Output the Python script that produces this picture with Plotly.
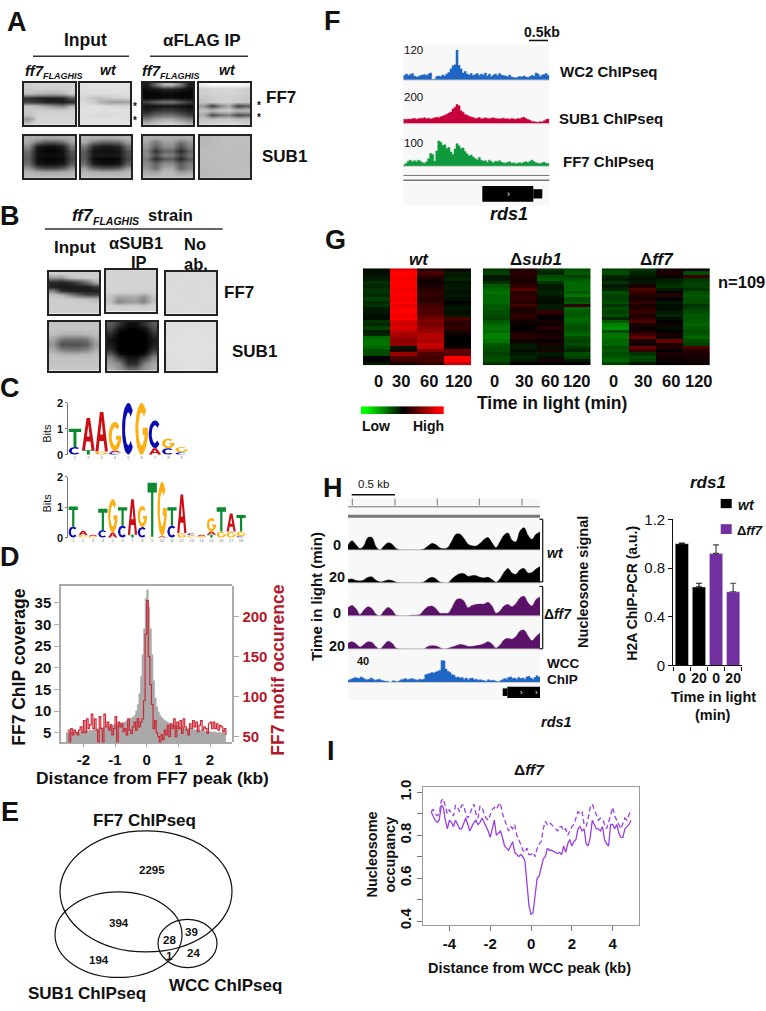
import numpy as np
import plotly.graph_objects as go

W, H = 766, 1011
FONT = "Liberation Sans"

# ---- Panel A / B blots (grey levels, 0 = black, 255 = white)
A_FF7_INPUT = [
    [205, 210, 210, 210, 210, 210],
    [200, 205, 205, 205, 205, 208],
    [195, 185, 180, 180, 185, 205],
    [50, 35, 30, 30, 35, 90],
    [60, 50, 35, 30, 25, 40],
    [195, 185, 165, 145, 130, 180],
    [200, 205, 205, 205, 205, 210],
    [195, 210, 210, 212, 212, 212],
    [150, 212, 212, 214, 214, 214],
    [195, 212, 214, 214, 214, 214],
]
A_FF7_WT = [
    [225, 226, 226, 226, 226, 226],
    [222, 224, 224, 224, 224, 224],
    [220, 220, 222, 222, 222, 222],
    [212, 195, 190, 200, 205, 210],
    [218, 205, 175, 160, 155, 160],
    [222, 222, 222, 218, 215, 215],
    [224, 224, 224, 224, 224, 224],
    [222, 220, 218, 218, 220, 222],
    [224, 224, 224, 224, 224, 224],
    [226, 226, 226, 226, 226, 226],
]
A_FF7_IP = [
    [30, 110, 180, 180, 120, 30],
    [15, 25, 40, 40, 25, 15],
    [5, 5, 10, 10, 5, 5],
    [10, 10, 15, 15, 10, 10],
    [70, 100, 120, 120, 90, 60],
    [15, 15, 20, 20, 15, 10],
    [30, 50, 60, 60, 45, 30],
    [70, 100, 110, 110, 90, 60],
    [125, 155, 170, 170, 145, 120],
    [175, 190, 200, 200, 190, 170],
]
A_FF7_IP_WT = [
    [240, 250, 250, 250, 250, 240],
    [205, 210, 212, 212, 210, 205],
    [205, 210, 212, 212, 210, 205],
    [200, 205, 208, 208, 205, 200],
    [195, 205, 210, 210, 205, 200],
    [150, 60, 130, 170, 60, 90],
    [195, 190, 205, 205, 190, 190],
    [170, 70, 110, 130, 70, 90],
    [195, 190, 200, 200, 190, 190],
    [208, 210, 212, 212, 210, 205],
]
A_SUB1_INPUT = [
    [175, 170, 165, 165, 170, 175],
    [170, 120, 90, 90, 110, 160],
    [140, 30, 15, 15, 30, 120],
    [110, 15, 5, 5, 15, 90],
    [100, 20, 15, 15, 20, 80],
    [95, 15, 5, 5, 10, 70],
    [110, 25, 15, 15, 20, 90],
    [150, 90, 70, 70, 90, 140],
    [180, 170, 165, 165, 170, 180],
    [185, 185, 185, 185, 185, 185],
]
A_SUB1_WT = [
    [180, 175, 170, 170, 175, 180],
    [170, 120, 100, 100, 110, 160],
    [120, 40, 25, 25, 35, 110],
    [90, 20, 15, 15, 20, 80],
    [90, 25, 25, 25, 25, 80],
    [90, 10, 5, 5, 10, 70],
    [110, 25, 15, 15, 20, 90],
    [155, 100, 80, 80, 95, 150],
    [185, 175, 170, 170, 175, 185],
    [190, 190, 190, 190, 190, 190],
]
A_SUB1_IP = [
    [175, 170, 175, 175, 170, 175],
    [165, 120, 160, 160, 115, 150],
    [150, 95, 140, 140, 80, 130],
    [130, 50, 100, 100, 40, 100],
    [140, 80, 130, 130, 70, 120],
    [120, 40, 90, 90, 40, 90],
    [140, 100, 140, 140, 90, 125],
    [150, 110, 170, 170, 100, 135],
    [170, 160, 185, 185, 155, 170],
    [185, 185, 190, 190, 185, 185],
]
A_SUB1_IP_WT = [
    [185, 190, 190],
    [188, 190, 188],
    [185, 188, 190],
]
B_FF7_INPUT = [
    [205, 205, 205, 205, 205, 205],
    [150, 150, 190, 200, 205, 205],
    [40, 35, 45, 70, 110, 170],
    [30, 25, 25, 30, 30, 55],
    [130, 45, 35, 30, 30, 30],
    [195, 180, 135, 100, 70, 70],
    [205, 205, 205, 200, 195, 185],
    [205, 205, 205, 205, 205, 205],
    [205, 205, 205, 205, 205, 205],
    [205, 205, 205, 205, 205, 205],
]
B_FF7_IP = [
    [212, 212, 212, 212, 212, 212],
    [212, 212, 212, 212, 212, 212],
    [212, 212, 212, 212, 212, 212],
    [212, 212, 212, 212, 212, 212],
    [212, 212, 212, 212, 210, 212],
    [210, 205, 205, 205, 200, 208],
    [195, 160, 165, 170, 140, 190],
    [195, 130, 150, 160, 130, 190],
    [210, 205, 205, 205, 200, 210],
    [212, 212, 212, 212, 212, 212],
]
B_FF7_NOAB = [
    [218, 220, 218],
    [220, 216, 220],
    [218, 220, 218],
]
B_SUB1_INPUT = [
    [195, 195, 195, 195, 195, 195],
    [195, 195, 195, 195, 195, 195],
    [190, 180, 175, 175, 180, 190],
    [165, 115, 110, 110, 120, 170],
    [150, 80, 80, 80, 90, 155],
    [170, 125, 115, 115, 130, 170],
    [190, 180, 175, 175, 180, 190],
    [195, 195, 195, 195, 195, 195],
    [195, 195, 195, 195, 195, 195],
    [200, 200, 200, 200, 200, 200],
]
B_SUB1_IP = [
    [90, 50, 15, 15, 50, 90],
    [70, 15, 0, 0, 15, 70],
    [40, 0, 0, 0, 0, 45],
    [20, 0, 0, 0, 0, 25],
    [25, 0, 0, 0, 0, 30],
    [45, 0, 0, 0, 0, 50],
    [90, 15, 0, 0, 15, 95],
    [135, 70, 25, 25, 70, 140],
    [160, 130, 40, 40, 130, 165],
    [175, 150, 100, 100, 150, 175],
]
B_SUB1_NOAB = [
    [222, 224, 222],
    [224, 226, 224],
    [222, 224, 222],
]

# ---- Panel C logos, bottom to top in each column
LOGO_TOP = [
    [("C", 0.3), ("T", 0.7)], [("T", 0.17), ("A", 1.25)], [("G", 0.12), ("A", 1.53)],
    [("C", 0.08), ("A", 0.07), ("G", 1.12)], [("C", 2.0)], [("G", 2.0)],
    [("A", 0.25), ("C", 1.08)], [("C", 0.25), ("G", 0.38)],
    [("C", 0.1), ("G", 0.2)],
]
LOGO_BOTTOM = [
    [("C", 0.37), ("T", 0.66)], [("G", 0.08), ("A", 0.15)], [("G", 0.05), ("A", 0.05)],
    [("C", 0.25), ("T", 0.7)], [("A", 0.17), ("G", 1.1)], [("C", 0.4), ("T", 0.6)],
    [("T", 0.1), ("A", 1.17)], [("C", 0.35), ("G", 0.7)], [("G", 0.03), ("T", 1.78)],
    [("A", 0.05), ("G", 1.79)], [("C", 0.4), ("T", 0.6)], [("G", 0.15), ("A", 1.27)],
    [("G", 0.08), ("C", 0.06)], [("G", 0.05), ("A", 0.05)], [("T", 0.1), ("A", 0.1), ("G", 0.45)],
    [("G", 0.2), ("T", 0.8)], [("G", 0.2), ("A", 0.6)], [("C", 0.05), ("G", 0.15), ("T", 0.55)],
]
LOGO_COLORS = {"T": "#0b8a2f", "A": "#cc0d14", "C": "#0a0ab0", "G": "#fdb013"}

# ---- Panel D
COVERAGE = [
    5, 5.1, 5, 5.2, 5, 5.1, 5.2, 5.3, 5.1, 5.2, 5.3,
    5.4, 5.3, 5.5, 5.4, 5.6, 5.5, 5.7, 5.6, 5.8, 6,
    6, 6.2, 6.1, 6.3, 6.2, 6.4, 6.3, 6.5, 6.6, 6.8,
    7, 6.9, 7.1, 7.2, 7.3, 7.4, 7.5, 7.8, 8, 8.2,
    8.4, 8.6, 9, 10, 11.5, 14, 18, 23, 29, 36,
    38, 34, 29, 23, 17, 13, 11, 9.8, 9, 8.5,
    8.1, 7.8, 7.6, 7.4, 7.2, 7, 6.9, 6.8, 6.7, 6.6,
    6.4, 6.3, 6.2, 6.2, 6.1, 6, 6, 5.9, 5.8, 5.8,
    5.7, 5.6, 5.6, 5.5, 5.5, 5.4, 5.4, 5.3, 5.2, 5.3,
    5.2, 5.1, 5.2, 5.1, 5, 5.1, 5, 5, 5.1, 5, 5,
]
MOTIF = [
    58, 40, 60, 52, 58, 55, 52, 58, 62, 55,
    70, 55, 72, 60, 65, 78, 60, 72, 58, 42,
    75, 60, 42, 78, 62, 68, 58, 65, 52, 60,
    75, 40, 68, 62, 66, 56, 60, 52, 72, 58,
    54, 62, 68, 58, 72, 62, 68, 72, 95, 178,
    220, 150, 115, 90, 60, 70, 55, 50, 42, 52,
    46, 58, 52, 64, 50, 66, 60, 72, 50, 68,
    60, 70, 54, 72, 62, 58, 52, 66, 60, 70,
    62, 68, 56, 64, 70, 58, 62, 60, 54, 66,
    68, 60, 68, 60, 66, 58, 64, 62, 56, 60, 52,
]

# ---- Panel F tracks
F_WC2 = [18, 24, 18, 22, 26, 16, 12, 14, 18, 20, 22, 18, 24, 28, 2, 4, 14, 16, 14, 20, 16, 24, 30, 44, 56, 60,
         118, 58, 44, 28, 34, 24, 20, 26, 18, 22, 26, 18, 24, 20, 28, 16, 24, 14, 20, 24, 18, 26, 20, 18, 16,
         14, 20, 12, 10, 8, 12, 14, 12, 16, 12, 10, 14, 18, 16, 28, 24, 14, 20, 22, 26, 18, 14]
F_SUB1 = [30, 28, 32, 30, 34, 36, 30, 34, 38, 36, 40, 34, 38, 32, 36, 40, 44, 40, 48, 52, 58, 64, 72, 80, 100,
          112, 130, 122, 88, 78, 62, 58, 50, 46, 42, 34, 38, 42, 34, 36, 40, 36, 34, 38, 40, 36, 34, 32, 36,
          38, 32, 34, 30, 36, 32, 30, 36, 34, 40, 44, 36, 28, 24, 16, 14, 12, 10, 14, 12, 20, 28, 32, 30]
F_FF7 = [6, 12, 20, 24, 18, 22, 18, 24, 20, 14, 12, 18, 30, 50, 46, 20, 60, 100, 94, 82, 84, 70, 74, 56, 46, 68,
         88, 80, 70, 72, 58, 48, 40, 44, 36, 30, 26, 34, 24, 20, 22, 16, 24, 18, 14, 20, 18, 22, 16, 14, 12,
         16, 18, 12, 14, 10, 12, 14, 12, 16, 18, 14, 20, 24, 18, 14, 12, 10, 14, 16, 12, 10, 8]

# ---- Panel G heatmaps (one list per time point)
WT_HEAT = [
    [-.05, -.05, -.1, -.1, -.2, -.15, -.2, -.2, -.15, -.25, -.15, -.2, -.1, -.1, -.05, -.05, -.2, -.15, -.25, -.1, -.15, -.4, -.45, -.45, -.4, -.3, -.3, 0, 0, -.1],
    [.9, 1, 1, .95, 1, 1, .95, 1, 1, .95, 1, .9, 1, 1, .95, 1, .85, .8, .85, .75, .65, .6, .55, .6, -.1, .1, .6, .3, .25, .1],
    [.1, .3, .15, .1, .05, .1, .15, .2, .2, .15, .2, .25, .3, .3, .35, .45, .5, .45, .55, .6, .7, .7, .65, .8, .75, .5, .3, .25, .3, .2],
    [0, -.1, -.1, -.15, -.05, -.1, -.1, -.05, -.1, -.05, 0, -.05, -.1, -.05, -.1, .3, .2, .15, .2, .1, .05, 0, 0, 0, .05, .4, .35, 1, 1, .8],
]
SUB1_HEAT = [
    [-.2, -.25, -.1, -.1, -.2, -.35, -.4, -.45, -.4, -.4, -.4, -.35, -.35, -.3, -.3, -.25, -.35, -.4, -.45, -.4, -.5, -.5, -.45, -.35, -.3, -.3, -.25, -.3, -.3, -.2],
    [.1, .15, .15, .1, .1, .2, .35, .15, .2, .2, .15, .25, .1, .1, .2, .15, .05, .05, 0, .05, .15, .15, .05, -.1, -.1, -.05, -.1, -.15, -.1, 0],
    [-.2, -.15, -.3, -.35, -.2, -.1, -.1, -.15, -.1, -.05, -.05, -.1, -.1, .2, .05, 0, .1, .05, .15, .05, .1, .1, .05, .1, -.05, .1, -.1, -.05, .1, 0],
    [-.3, -.35, -.25, -.35, -.4, -.4, -.4, -.35, -.45, -.3, -.35, .2, -.4, -.35, -.35, -.4, -.4, -.35, -.3, -.35, -.4, -.3, -.25, -.3, -.2, -.15, -.3, -.25, -.1, 0],
]
FF7_HEAT = [
    [-.25, -.3, -.15, -.1, -.2, -.1, -.15, -.3, -.25, -.25, -.3, -.2, -.3, -.25, -.3, -.15, -.35, -.5, -.55, -.3, -.45, -.45, -.4, -.4, -.3, -.35, -.3, -.35, -.4, -.25],
    [-.2, -.15, -.1, -.05, -.1, .1, .3, .2, .15, .1, .2, .1, .15, .2, .1, .2, .3, .1, .05, .1, .25, .4, .1, .05, .4, .2, -.2, -.3, -.25, -.1],
    [.05, .1, .05, -.1, -.15, -.2, -.1, .05, .15, 0, -.1, -.05, -.05, -.1, -.15, -.05, 0, .05, -.05, 0, .1, .05, .4, .1, .15, 0, .1, .05, .05, 0],
    [0, -.3, .2, -.2, -.25, -.25, -.2, -.3, -.35, -.3, -.3, -.2, -.25, -.3, -.35, -.35, -.35, -.4, -.35, -.3, -.35, -.4, -.3, -.25, .3, .15, .1, .1, .05, .05],
]
HEAT_SCALE_VALUES = [-1, -.75, -.5, -.25, 0, .25, .5, .75, 1]

# ---- Panel H tracks
WT_0 = [15, 28, 16, 4, 14, 38, 38, 10, 0, 12, 22, 18, 5, 0, 0, 0, 0, 0, 0, 3, 12, 20, 16, 6, 4, 8, 28, 48, 48, 35,
        18, 13, 12, 20, 32, 38, 22, 7, 25, 45, 52, 30, 25, 58, 68, 45, 32, 48, 55]
WT_20 = [10, 12, 7, 6, 9, 17, 18, 8, 3, 5, 9, 7, 2, 0, 0, 0, 0, 0, 0, 3, 12, 17, 12, 2, 0, 0, 12, 22, 28, 28,
         20, 22, 22, 17, 15, 17, 10, 2, 12, 32, 44, 30, 26, 40, 44, 30, 32, 42, 50]
FF7_0 = [25, 32, 22, 4, 18, 28, 22, 5, 0, 15, 26, 18, 2, 0, 0, 0, 2, 2, 4, 18, 28, 30, 22, 8, 8, 8, 25, 48, 52, 45,
         25, 32, 35, 36, 36, 42, 30, 8, 15, 30, 35, 28, 38, 55, 60, 40, 30, 50, 58]
FF7_20 = [18, 22, 16, 6, 14, 22, 20, 7, 0, 12, 24, 18, 3, 0, 0, 0, 0, 0, 0, 0, 8, 10, 9, 4, 0, 2, 6, 10, 14, 12,
          8, 8, 10, 12, 16, 22, 15, 3, 12, 28, 32, 30, 38, 55, 58, 40, 25, 38, 48]
WCC_H = [4, 6, 7, 9, 8, 7, 10, 8, 6, 5, 6, 8, 6, 4, 5, 6, 4, 3, 2, 2,
         0, 1, 3, 2, 1, 3, 5, 6, 7, 5, 6, 7, 6, 5, 4, 6, 5, 6,
         14, 15, 16, 18, 17, 19, 20, 22, 40, 39, 24, 20, 18, 14, 13, 9,
         10, 8, 9, 6, 8, 5, 7, 8, 5, 6, 4, 5, 4, 3, 2, 5, 3, 4, 3, 2, 1,
         3, 5, 7, 6, 9, 10, 7, 8, 6, 9, 7, 8, 6, 10, 11, 8, 6, 9, 12, 10, 8]

# ---- Panel H bars
BAR_LABELS = ["0", "20", "0", "20"]
BAR_VALUES_WT = [1.0, 0.645]
BAR_ERRORS_WT = [0.005, 0.03]
BAR_VALUES_FF7 = [0.92, 0.605]
BAR_ERRORS_FF7 = [0.07, 0.07]

# ---- Panel I
OCC_SOLID = [
    .91, .89, .87, .86, .87, .94, .93, .87, .83, .87,
    .86, .84, .87, .85, .83, .83, .86, .88, .85, .82,
    .84, .86, .87, .85, .86, .88, .86, .84, .82, .79,
    .83, .87, .80, .81, .82, .79, .75, .74, .73, .75,
    .77, .72, .71, .70, .71, .70, .68, .58, .47, .43,
    .44, .52, .60, .61, .65, .69, .70, .74, .73, .73,
    .725, .72, .715, .72, .71, .75, .72, .76, .78, .75,
    .77, .78, .83, .84, .82, .83, .76, .75, .79, .87,
    .85, .83, .83, .82, .84, .78, .76, .75, .85, .85,
    .83, .85, .81, .79, .79, .83, .84, .85, .87,
]
OCC_DASHED = [
    .91, .92, .90, .89, .90, .96, .97, .93, .90, .92,
    .90, .89, .94, .93, .91, .94, .94, .90, .88, .90,
    .92, .945, .90, .88, .935, .93, .90, .88, .87, .90,
    .92, .93, .92, .94, .95, .90, .87, .84, .82, .84,
    .83, .85, .80, .78, .75, .73, .72, .74, .71, .71,
    .72, .70, .74, .76, .77, .83, .865, .85, .86, .85,
    .845, .83, .82, .84, .84, .82, .83, .80, .82, .84,
    .85, .88, .91, .90, .91, .85, .84, .88, .93, .945,
    .92, .89, .87, .88, .875, .85, .83, .86, .90, .93,
    .89, .87, .85, .83, .855, .88, .87, .90, .92,
]

fig = go.Figure()
layout_axes = {}
annotations = []
shapes = []
axis_count = 0


def fx(px):
    return px / W


def fy(py):
    return 1 - py / H


def add_axes(x0, y0, x1, y1, xrange, yrange, xopts=None, yopts=None):
    # x0,y0,x1,y1 are pixels of the 766x1011 page, y counted from the top
    global axis_count
    axis_count += 1
    n = axis_count
    xa = dict(domain=[fx(x0), fx(x1)], range=xrange, anchor=f"y{n}", visible=False)
    ya = dict(domain=[fy(y1), fy(y0)], range=yrange, anchor=f"x{n}", visible=False)
    if xopts:
        xa.update(visible=True, showgrid=False, zeroline=False, **xopts)
    if yopts:
        ya.update(visible=True, showgrid=False, zeroline=False, **yopts)
    layout_axes[f"xaxis{n}"] = xa
    layout_axes[f"yaxis{n}"] = ya
    return f"x{n}", f"y{n}"


def label(x, y, s, size=14, bold=True, italic=False, color="#111", angle=0, anchor="center"):
    if italic:
        s = f"<i>{s}</i>"
    if bold:
        s = f"<b>{s}</b>"
    annotations.append(dict(
        x=fx(x), y=fy(y), xref="paper", yref="paper", text=s, showarrow=False,
        xanchor=anchor, yanchor="middle", textangle=angle, borderpad=0, borderwidth=0,
        font=dict(family=FONT, size=size, color=color),
    ))


def line(x0, y0, x1, y1, color="#333", width=1.5):
    shapes.append(dict(type="line", xref="paper", yref="paper", x0=fx(x0), y0=fy(y0), x1=fx(x1), y1=fy(y1),
                       line=dict(color=color, width=width)))


def rect(x0, y0, x1, y1, color):
    shapes.append(dict(type="rect", xref="paper", yref="paper", x0=fx(x0), y0=fy(y0), x1=fx(x1), y1=fy(y1),
                       fillcolor=color, line=dict(width=0), layer="below"))


def ellipse(x0, y0, x1, y1):
    shapes.append(dict(type="circle", xref="paper", yref="paper", x0=fx(x0), y0=fy(y0), x1=fx(x1), y1=fy(y1),
                       line=dict(color="#111", width=1.2)))


def blot(x0, y0, x1, y1, z):
    nrow, ncol = len(z), len(z[0])
    frame = dict(showline=True, mirror=True, linecolor="#222", linewidth=1.5, ticks="", showticklabels=False)
    xa, ya = add_axes(x0, y0, x1, y1, [-0.5, ncol - 0.5], [nrow - 0.5, -0.5], frame, frame)
    fig.add_trace(go.Heatmap(z=z, xaxis=xa, yaxis=ya, zmin=0, zmax=255, zsmooth="best", showscale=False,
                             colorscale=[[0, "#000000"], [1, "#ffffff"]]))


# ---- unit-box outlines of the logo letters
def arc_points(a0, a1, rx, ry, num=24):
    t = np.radians(np.linspace(a0, a1, num))
    return list(zip(0.5 + rx * np.cos(t), 0.5 + ry * np.sin(t)))


GLYPHS = {
    "T": [[(0, 1), (1, 1), (1, .82), (.62, .82), (.62, 0), (.38, 0), (.38, .82), (0, .82)]],
    "A": [[(0, 0), (.36, 1), (.64, 1), (1, 0), (.76, 0), (.67, .27), (.33, .27), (.24, 0)],
          [(.39, .43), (.61, .43), (.5, .78)]],
    "C": [arc_points(45, 315, .5, .5) + arc_points(315, 45, .26, .32)],
    "G": [arc_points(45, 340, .5, .5) + [(1, .34), (1, .52), (.58, .52), (.58, .38), (.76, .38)]
          + arc_points(340, 45, .26, .32)],
}


def draw_logo(x0, y0, x1, y1, stacks):
    n = len(stacks)
    xa, ya = add_axes(
        x0, y0, x1, y1, [0, n], [0, 2],
        dict(tickvals=[i + 0.5 for i in range(n)], ticktext=[str(i + 1) for i in range(n)],
             tickfont=dict(family=FONT, size=4, color="#777"), ticks="", ticklabelstandoff=-1),
        dict(tickvals=[0, 1, 2], showline=True, linecolor="#777", linewidth=1, ticks="outside", ticklen=2,
             tickcolor="#777", tickfont=dict(family=FONT, size=11, color="#111", weight="bold")),
    )
    px = {b: [] for b in GLYPHS}
    py = {b: [] for b in GLYPHS}
    for i, stack in enumerate(stacks):
        bottom = 0
        for base, height in stack:
            for part in GLYPHS[base]:
                for gx, gy in part:
                    px[base].append(i + 0.03 + gx * 0.94)
                    py[base].append(bottom + gy * height)
                px[base].append(None)
                py[base].append(None)
            bottom += height
    for base in GLYPHS:
        fig.add_trace(go.Scatter(x=px[base], y=py[base], xaxis=xa, yaxis=ya, mode="lines", fill="toself", name=base,
                                 fillcolor=LOGO_COLORS[base], line=dict(width=0), hoverinfo="name"))


def track(x0, x1, base_y, height, ymax, values, color, shape="hv"):
    xa, ya = add_axes(x0, base_y - height, x1, base_y, [0, len(values) - 1], [0, ymax])
    line(x0, base_y, x1, base_y, "#cccccc", 1)
    fig.add_trace(go.Scatter(x=list(range(len(values))), y=values, xaxis=xa, yaxis=ya, mode="lines", fill="tozeroy",
                             fillcolor=color, line=dict(color=color, width=0.5, shape=shape), hoverinfo="skip"))


# ---- A
label(17, 13, "A", 27)
label(85, 32, "Input", 17.5)
label(201.7, 32, "αFLAG IP", 17)
line(33, 48, 129, 48)
line(150, 48, 248, 48)
for fx0 in [25, 142]:
    label(fx0, 63, "ff7", 15, italic=True, anchor="left")
    label(fx0 + 18, 68, "FLAGHIS", 9, italic=True, anchor="left")
label(108, 62, "wt", 14, italic=True)
label(227, 62, "wt", 14, italic=True)
blot(24, 75, 75, 118, A_FF7_INPUT)
blot(80, 75, 130, 118, A_FF7_WT)
blot(143, 75, 193, 118, A_FF7_IP)
blot(199, 75, 250, 118, A_FF7_IP_WT)
blot(24, 129, 75, 172, A_SUB1_INPUT)
blot(81, 129, 131, 172, A_SUB1_WT)
blot(143, 129, 193, 172, A_SUB1_IP)
blot(200, 129, 250, 172, A_SUB1_IP_WT)
for sx, sy in [(135, 99), (135, 113), (259, 98), (259, 110)]:
    label(sx, sy, "*", 10)
label(281, 90, "FF7", 17)
label(284, 150, "SUB1", 17)

# ---- B
label(10, 211, "B", 27)
label(72, 210, "ff7", 17, italic=True, anchor="left")
label(93, 216, "FLAGHIS", 10.5, italic=True, anchor="left")
label(148, 210, "strain", 16.5, anchor="left")
line(45, 223.7, 222.7, 223.7)
label(75, 243, "Input", 17)
label(136, 238, "αSUB1", 16.5)
label(139, 257, "IP", 16.5)
label(195, 239, "No", 16.5)
label(196, 259, "ab.", 16.5)
blot(49, 267, 99, 310, B_FF7_INPUT)
blot(106, 265, 156, 308, B_FF7_IP)
blot(166, 267, 216, 310, B_FF7_NOAB)
blot(49, 318, 99, 368, B_SUB1_INPUT)
blot(107, 318, 157, 368, B_SUB1_IP)
blot(166, 318, 216, 368, B_SUB1_NOAB)
label(239, 288, "FF7", 17)
label(254, 348, "SUB1", 17)

# ---- C
label(10, 385, "C", 27)
draw_logo(68.3, 400.7, 188.3, 453.3, LOGO_TOP)
draw_logo(68.3, 476, 246, 537.7, LOGO_BOTTOM)
label(47, 432, "Bits", 11, bold=False, angle=-90)
label(47, 503, "Bits", 11, bold=False, angle=-90)

# ---- D
label(10, 557, "D", 27)
RED = "#b2182b"
tick_black = dict(family=FONT, size=15, color="#111", weight="bold")
xa, ya = add_axes(
    61, 586.7, 231.7, 746, [-2.706, 2.684], [2.75, 38.9],
    dict(tickvals=[-2, -1, 0, 1, 2], ticktext=["-2", "-1", "0", "1", "2"], showline=True, mirror=True,
         linecolor="#aaa", linewidth=1.5, ticks="outside", ticklen=3, tickcolor="#aaa", tickfont=tick_black),
    dict(tickvals=[5, 10, 15, 20, 25, 30, 35], showline=True, linecolor="#aaa", linewidth=1.5,
         ticks="outside", ticklen=5, tickcolor="#aaa", tickfont=tick_black),
)
fig.add_trace(go.Scatter(x=np.linspace(-2.55, 2.5, len(COVERAGE)), y=COVERAGE, xaxis=xa, yaxis=ya, mode="lines",
                         fill="tozeroy", fillcolor="#a9a9a9", line=dict(color="#a9a9a9", width=0.5, shape="hv"),
                         hoverinfo="skip"))
x2, y2 = add_axes(
    61, 586.7, 231.7, 746, [-2.706, 2.684], [42.6, 238.5], None,
    dict(side="right", tickvals=[50, 100, 150, 200], showline=True, linecolor="#aaa", linewidth=1.5,
         ticks="outside", ticklen=6, tickcolor="#aaa", tickfont=dict(family=FONT, size=15, color=RED, weight="bold")),
)
fig.add_trace(go.Scatter(x=np.linspace(-2.5, 2.5, len(MOTIF)), y=MOTIF, xaxis=x2, yaxis=y2, mode="lines",
                         line=dict(color="#cc2a36", width=1.2, shape="hv"), hoverinfo="skip"))
label(19, 669, "FF7 ChIP coverage", 17.5, angle=-90)
label(278, 673, "FF7 motif occurence", 17.5, color=RED, angle=-90)
label(152.7, 782, "Distance from FF7 peak (kb)", 17.4)

# ---- E
label(10, 817, "E", 27)
ellipse(60, 836, 232, 959)
ellipse(55, 898, 182, 985)
ellipse(158, 926, 217, 975)
label(144, 825, "FF7 ChIPseq", 17)
label(87, 1001, "SUB1 ChIPseq", 17)
label(226, 993, "WCC ChIPseq", 17)
for vx, vy, v in [(152, 876, "2295"), (119, 930, "394"), (169, 947, "28"), (192, 939, "39"),
                  (193, 960, "24"), (169, 963, "1"), (99, 967, "194")]:
    label(vx, vy, v, 11.5)

# ---- F
label(332, 12, "F", 27)
label(542, 23, "0.5kb", 14)
line(529, 32, 548, 32, "#111", 1.5)
rect(403.3, 36.7, 549.3, 200, "#f8f8f8")
track(403.3, 549.3, 72.3, 31, 120, F_WC2, "#1f66c4")
track(403.3, 549.3, 116.7, 30, 200, F_SUB1, "#c8003c")
track(403.3, 549.3, 160, 26, 100, F_FF7, "#0f9a3d")
label(413, 42, "120", 11.5, bold=False)
label(413, 90, "200", 11.5, bold=False)
label(413, 136, "100", 11.5, bold=False)
line(403.3, 169.3, 549.3, 169.3, "#777", 1)
line(403.3, 174.3, 549.3, 174.3, "#777", 1.5)
rect(482.3, 180, 533.3, 196, "#000")
rect(533.3, 183.3, 542.3, 192.7, "#000")
label(508, 188, "›", 9, bold=False, color="#fff")
label(609, 64, "WC2 ChIPseq", 15)
label(611, 111, "SUB1 ChIPseq", 15)
label(608, 155, "FF7 ChIPseq", 15)
label(509, 208, "rds1", 18, italic=True)

# ---- G
label(335, 235, "G", 27)
HEAT_COLORS = [[0, "#00ff00"], [0.5, "#000000"], [1, "#ff0000"]]
for (x0, x1, columns) in [(363, 471.3, WT_HEAT), (482.7, 590.7, SUB1_HEAT), (601.7, 710, FF7_HEAT)]:
    xa, ya = add_axes(x0, 263.7, x1, 362.3, [-0.5, 3.5], [len(columns[0]) - 0.5, -0.5])
    fig.add_trace(go.Heatmap(z=[list(r) for r in zip(*columns)], xaxis=xa, yaxis=ya, zmin=-1, zmax=1,
                             colorscale=HEAT_COLORS, showscale=False))
xa, ya = add_axes(360.7, 404, 444, 412, [-0.5, len(HEAT_SCALE_VALUES) - 0.5], [-0.5, 0.5])
fig.add_trace(go.Heatmap(z=[HEAT_SCALE_VALUES], xaxis=xa, yaxis=ya, zmin=-1, zmax=1, zsmooth="best",
                         colorscale=HEAT_COLORS, showscale=False))
label(419, 255, "wt", 17, italic=True)
label(536, 255, "Δ<i>sub1</i>", 17)
label(657, 255, "Δ<i>ff7</i>", 17)
label(741, 278, "n=109", 16.5)
for tx, t in [(378, "0"), (401, "30"), (429, "60"), (459, "120"),
              (494.7, "0"), (524, "30"), (550, "60"), (577, "120"),
              (613.7, "0"), (642.7, "30"), (670.7, "60"), (699, "120")]:
    label(tx, 378, t, 16.5)
label(552, 400.7, "Time in light (min)", 17.5)
label(375.7, 424, "Low", 14)
label(428, 424, "High", 14)

# ---- H tracks
label(333, 487, "H", 27)
rect(348, 497.7, 540, 703, "#f8f8f8")
label(373, 483, "0.5 kb", 11.5, bold=False)
line(351.7, 494, 395, 494, "#111", 1.5)
for rx in [352.3, 395, 437.3, 479.3, 522]:
    line(rx, 498, rx, 505, "#777", 1)
line(348, 506.3, 540, 506.3, "#777", 1)
line(348, 516, 540, 516, "#777", 3)
track(348, 540, 550.3, 30, 90, WT_0, "#000000", "spline")
track(348, 540, 583.7, 30, 90, WT_20, "#000000", "spline")
track(348, 540, 617.3, 30, 90, FF7_0, "#5a1268", "spline")
track(348, 540, 651, 30, 90, FF7_20, "#5a1268", "spline")
track(348, 540, 685, 22.7, 40, WCC_H, "#1f66c4")
rect(507.3, 689.3, 540, 700.7, "#000")
rect(502.7, 691, 507.3, 698.7, "#000")
label(521.7, 695, "›", 8, bold=False, color="#fff")
label(536, 695, "›", 8, bold=False, color="#fff")
for ty, t in [(545, "0"), (578, "20"), (614, "0"), (648, "20")]:
    label(337, ty, t, 14.5)
label(317, 598, "Time in light (min)", 15, angle=-90)
label(363, 662.7, "40", 11)
for by0, by1 in [(519, 582.7), (587.3, 650.7)]:
    line(542.7, by0, 542.7, by1, "#111", 1.2)
    line(539.5, by0, 542.7, by0, "#111", 1.2)
    line(539.5, by1, 542.7, by1, "#111", 1.2)
label(555, 553, "wt", 14, italic=True)
label(558, 615.7, "Δ<i>ff7</i>", 14)
label(546.7, 665.7, "WCC", 13.5, anchor="left")
label(546.7, 682, "ChIP", 13.5, anchor="left")
label(556, 725, "rds1", 14.5, italic=True)
label(582.7, 583, "Nucleosome signal", 14.5, angle=-90)

# ---- H bars
xa, ya = add_axes(
    673.3, 519, 741.7, 667.7, [0, 4], [0, 1.2],
    dict(tickvals=[0.5, 1.5, 2.5, 3.5], ticktext=BAR_LABELS, showline=True, linecolor="#111", linewidth=1.2,
         ticks="", tickfont=dict(family=FONT, size=14, color="#111", weight="bold"),
         minor=dict(dtick=1, tick0=0, ticks="outside", ticklen=4, tickcolor="#111", showgrid=False)),
    dict(tickvals=[0, 0.4, 0.8, 1.2], ticktext=["0", "0.4", "0.8", "1.2"], showline=True, linecolor="#111",
         linewidth=1.2, ticks="outside", ticklen=4, tickcolor="#111",
         tickfont=dict(family=FONT, size=15, color="#111")),
)
fig.add_trace(go.Bar(x=[0.5, 1.5], y=BAR_VALUES_WT, width=0.78, xaxis=xa, yaxis=ya, marker_color="#000000",
                     error_y=dict(type="data", symmetric=False, array=BAR_ERRORS_WT, arrayminus=[0, 0],
                                  color="#222", thickness=1.2, width=3)))
fig.add_trace(go.Bar(x=[2.5, 3.5], y=BAR_VALUES_FF7, width=0.78, xaxis=xa, yaxis=ya, marker_color="#7030a0",
                     error_y=dict(type="data", symmetric=False, array=BAR_ERRORS_FF7, arrayminus=[0, 0],
                                  color="#444", thickness=1.2, width=3)))
label(708, 481.7, "rds1", 17, italic=True)
rect(720.7, 498.3, 731.7, 507.7, "#000")
rect(720.7, 524, 731.7, 534, "#7030a0")
label(738, 504, "wt", 14, italic=True, anchor="left")
label(737, 530, "Δ<i>ff7</i>", 13, anchor="left")
label(631.7, 594, "H2A ChIP-PCR (a.u.)", 14, angle=-90)
label(713, 700, "Time in light", 14.5)
label(713, 717.7, "(min)", 14.5)

# ---- I
label(331, 755, "I", 27)
PURPLE = "#9a3fe0"
xa, ya = add_axes(
    423.3, 791.7, 639, 932, [-5.28, 5.29], [0.38, 1.023],
    dict(tickvals=[-4, -2, 0, 2, 4], ticktext=["-4", "-2", "0", "2", "4"], showline=True, mirror=True,
         linecolor="#999", linewidth=1.2, ticks="outside", ticklen=5, tickcolor="#777", tickfont=tick_black),
    dict(tickvals=[0.4, 0.6, 0.8, 1.0], ticktext=["0.4", "0.6", "0.8", "1.0"],
         tickangle=-90, showline=True, mirror=True, linecolor="#999", linewidth=1.2, ticks="outside", ticklen=5,
         tickcolor="#777", tickfont=tick_black,
         minor=dict(dtick=0.1, tick0=0.4, ticks="outside", ticklen=5, tickcolor="#777", showgrid=False)),
)
occ_x = np.linspace(-4.9, 4.9, len(OCC_SOLID))
fig.add_trace(go.Scatter(x=occ_x, y=OCC_DASHED, xaxis=xa, yaxis=ya, mode="lines",
                         line=dict(color=PURPLE, width=1.3, dash="5px,3px")))
fig.add_trace(go.Scatter(x=occ_x, y=OCC_SOLID, xaxis=xa, yaxis=ya, mode="lines",
                         line=dict(color=PURPLE, width=1.3)))
label(529, 773, "Δ<i>ff7</i>", 15.5)
label(372, 860, "Nucleosome", 14.5, angle=-90)
label(390, 860, "occupancy", 14.5, angle=-90)
label(529, 975, "Distance from WCC peak (kb)", 14.5)

fig.update_layout(
    width=W, height=H, margin=dict(l=0, r=0, t=0, b=0), paper_bgcolor="white", plot_bgcolor="rgba(0,0,0,0)",
    showlegend=False, barmode="overlay", annotations=annotations, shapes=shapes,
    font=dict(family=FONT), **layout_axes,
)
# the page keeps a default body margin, drop it so the figure starts at the window corner
fig.write_html("out.html", config=dict(displayModeBar=False),
               post_script="document.body.style.margin='0';document.documentElement.style.overflow='hidden';")
